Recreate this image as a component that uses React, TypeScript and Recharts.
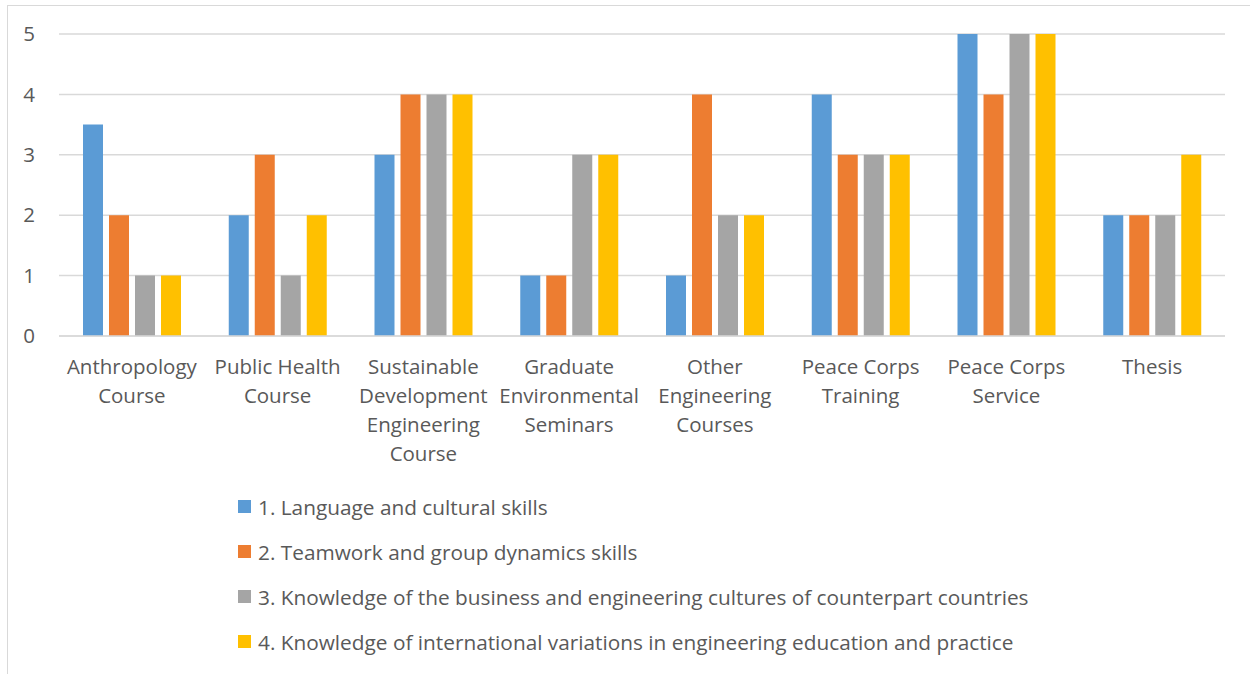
import React from "react";
import { BarChart, Bar, XAxis, YAxis, CartesianGrid } from "recharts";

const categories = [
  "Anthropology\nCourse",
  "Public Health\nCourse",
  "Sustainable\nDevelopment\nEngineering\nCourse",
  "Graduate\nEnvironmental\nSeminars",
  "Other\nEngineering\nCourses",
  "Peace Corps\nTraining",
  "Peace Corps\nService",
  "Thesis",
];

const language = [3.5, 2, 3, 1, 1, 4, 5, 2];
const teamwork = [2, 3, 4, 1, 4, 3, 4, 2];
const business = [1, 1, 4, 3, 2, 3, 5, 2];
const international = [1, 2, 4, 3, 2, 3, 5, 3];

const seriesNames = [
  "1. Language and cultural skills",
  "2. Teamwork and group dynamics skills",
  "3. Knowledge of the business and engineering cultures of counterpart countries",
  "4. Knowledge of international variations in engineering education and practice",
];

const yTicks = [0, 1, 2, 3, 4, 5];

const colors = ["#5B9BD5", "#ED7D31", "#A5A5A5", "#FFC000"];
const FONT = "'Open Sans', sans-serif";
const TEXT = "#595959";
const FS = 20.5;

const data = categories.map((name, i) => ({
  name,
  s1: language[i],
  s2: teamwork[i],
  s3: business[i],
  s4: international[i],
}));

const CategoryTick = ({ x, y, payload }: any) => {
  const lines = String(payload.value).split("\n");
  return (
    <text x={x} y={y} textAnchor="middle" fill={TEXT} fontFamily={FONT} fontSize={FS}>
      {lines.map((line, i) => (
        <tspan key={i} x={x} dy={i === 0 ? 30 : 29}>
          {line}
        </tspan>
      ))}
    </text>
  );
};

export default function App() {
  return (
    <div style={{ position: "absolute", left: 0, top: 0, width: 1250, height: 674, background: "#fff" }}>
      <div
        style={{
          position: "absolute",
          left: 7,
          top: 5,
          width: 1260,
          height: 700,
          border: "1px solid #d9d9d9",
          boxSizing: "border-box",
        }}
      />
      <div style={{ position: "absolute", left: 0, top: 0 }}>
        <BarChart
          width={1250}
          height={674}
          data={data}
          margin={{ top: 34, right: 25, left: 0, bottom: 308 }}
          barCategoryGap="16%"
          barGap={6}
        >
          <CartesianGrid vertical={false} stroke="#d9d9d9" strokeWidth={1.5} />
          <XAxis
            dataKey="name"
            axisLine={{ stroke: "#d9d9d9", strokeWidth: 1.5 }}
            tickLine={false}
            tick={<CategoryTick />}
            interval={0}
            height={30}
          />
          <YAxis
            domain={[0, 5]}
            ticks={yTicks}
            width={59}
            axisLine={false}
            tickLine={false}
            tickSize={0}
            tickMargin={24}
            tick={{ fill: TEXT, fontFamily: FONT, fontSize: FS }}
          />
          <Bar dataKey="s1" name={seriesNames[0]} fill={colors[0]} barSize={20} isAnimationActive={false} />
          <Bar dataKey="s2" name={seriesNames[1]} fill={colors[1]} barSize={20} isAnimationActive={false} />
          <Bar dataKey="s3" name={seriesNames[2]} fill={colors[2]} barSize={20} isAnimationActive={false} />
          <Bar dataKey="s4" name={seriesNames[3]} fill={colors[3]} barSize={20} isAnimationActive={false} />
        </BarChart>
      </div>
      <div
        style={{
          position: "absolute",
          left: 238,
          top: 484,
          fontFamily: FONT,
          fontSize: 20.8,
          color: TEXT,
        }}
      >
        {seriesNames.map((name, i) => (
          <div key={name} style={{ display: "flex", alignItems: "center", height: 45 }}>
            <span
              style={{
                width: 13,
                height: 13,
                background: colors[i],
                display: "inline-block",
                marginRight: 7,
              }}
            />
            <span>{name}</span>
          </div>
        ))}
      </div>
    </div>
  );
}
